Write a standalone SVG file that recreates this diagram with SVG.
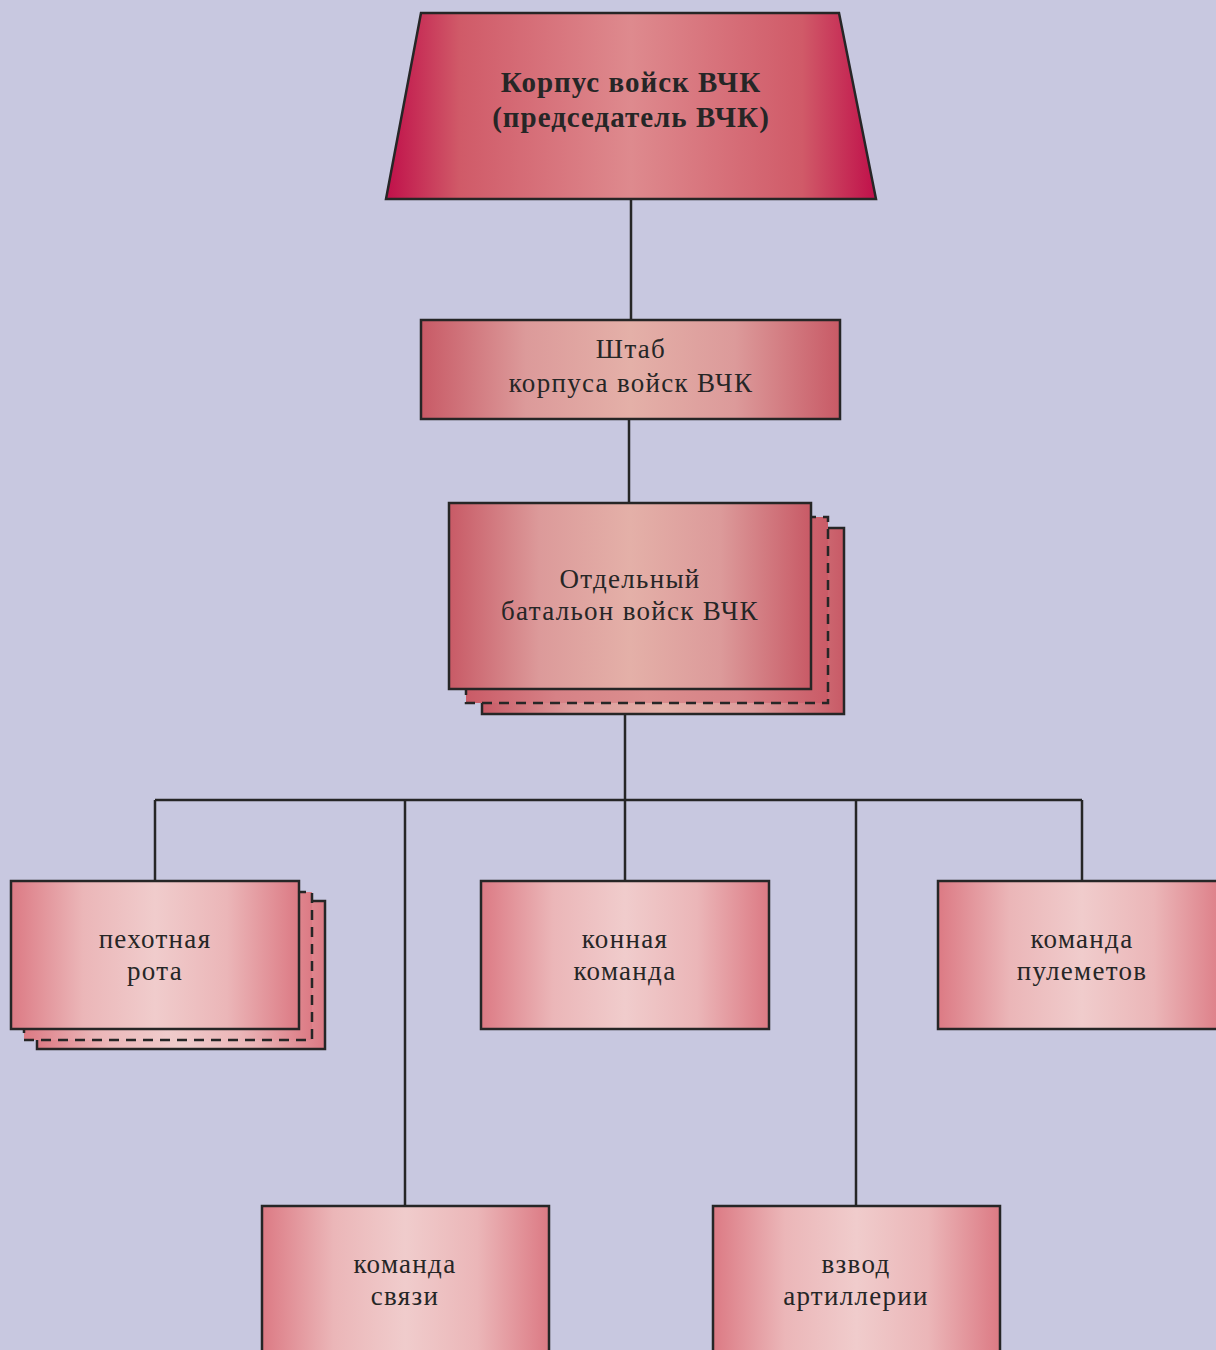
<svg xmlns="http://www.w3.org/2000/svg" width="1216" height="1350" viewBox="0 0 1216 1350">
<defs>
<linearGradient id="gTop" x1="0" y1="0" x2="1" y2="0">
<stop offset="0" stop-color="#c0104a"/>
<stop offset="0.15" stop-color="#d05a68"/>
<stop offset="0.5" stop-color="#de8a8e"/>
<stop offset="0.85" stop-color="#d05a68"/>
<stop offset="1" stop-color="#c0104a"/>
</linearGradient>
<linearGradient id="gMid" x1="0" y1="0" x2="1" y2="0">
<stop offset="0" stop-color="#c85a66"/>
<stop offset="0.25" stop-color="#dc9a9a"/>
<stop offset="0.5" stop-color="#e4b0a8"/>
<stop offset="0.75" stop-color="#dc9a9a"/>
<stop offset="1" stop-color="#c85a66"/>
</linearGradient>
<linearGradient id="gLow" x1="0" y1="0" x2="1" y2="0">
<stop offset="0" stop-color="#dc7a84"/>
<stop offset="0.25" stop-color="#ebb6b8"/>
<stop offset="0.5" stop-color="#f0cccc"/>
<stop offset="0.75" stop-color="#ebb6b8"/>
<stop offset="1" stop-color="#dc7a84"/>
</linearGradient>
<style>
.box{stroke:#262626;stroke-width:2.5}
.dash{stroke:#262626;stroke-width:2.5;stroke-dasharray:10 7}
.t{font-family:"Liberation Serif","DejaVu Serif",serif;font-size:27px;fill:#262626;text-anchor:middle;letter-spacing:1.3px}
.tb{font-family:"Liberation Serif","DejaVu Serif",serif;font-size:29px;font-weight:bold;fill:#262626;text-anchor:middle;letter-spacing:1px}
.c{stroke:#262626;stroke-width:2.5;fill:none}
</style>
</defs>
<rect x="0" y="0" width="1216" height="1350" fill="#c8c8e0"/>
<g id="connectors">
<line class="c" x1="631" y1="199" x2="631" y2="320"/>
<line class="c" x1="629" y1="419" x2="629" y2="503"/>
<line class="c" x1="625" y1="714" x2="625" y2="800"/>
<line class="c" x1="155" y1="800" x2="1082" y2="800"/>
<line class="c" x1="155" y1="800" x2="155" y2="881"/>
<line class="c" x1="405" y1="800" x2="405" y2="1206"/>
<line class="c" x1="625" y1="800" x2="625" y2="881"/>
<line class="c" x1="856" y1="800" x2="856" y2="1206"/>
<line class="c" x1="1082" y1="800" x2="1082" y2="881"/>
</g>
<g id="korpus">
<polygon class="box" points="421,13 839,13 876,199 386,199" fill="url(#gTop)"/>
<text class="tb" x="631" y="92">Корпус войск ВЧК</text>
<text class="tb" x="631" y="127">(председатель ВЧК)</text>
</g>
<g id="shtab">
<rect class="box" x="421" y="320" width="419" height="99" fill="url(#gMid)"/>
<text class="t" x="631" y="358">Штаб</text>
<text class="t" x="631" y="392">корпуса войск ВЧК</text>
</g>
<g id="batalion">
<rect class="box" x="482" y="528" width="362" height="186" fill="url(#gMid)"/>
<rect x="466" y="517" width="362" height="186" fill="#cd5c68"/>
<rect x="466" y="517" width="362" height="186" fill="url(#gMid)" opacity="0.6"/>
<rect class="dash" x="466" y="517" width="362" height="186" fill="none"/>
<rect class="box" x="449" y="503" width="362" height="186" fill="url(#gMid)"/>
<text class="t" x="630" y="588">Отдельный</text>
<text class="t" x="630" y="620">батальон войск ВЧК</text>
</g>
<g id="pekhotnaya">
<rect class="box" x="37" y="901" width="288" height="148" fill="url(#gLow)"/>
<rect x="24" y="892" width="288" height="148" fill="url(#gLow)"/>
<rect class="dash" x="24" y="892" width="288" height="148" fill="none"/>
<rect class="box" x="11" y="881" width="288" height="148" fill="url(#gLow)"/>
<text class="t" x="155" y="948">пехотная</text>
<text class="t" x="155" y="980">рота</text>
</g>
<g id="konnaya">
<rect class="box" x="481" y="881" width="288" height="148" fill="url(#gLow)"/>
<text class="t" x="625" y="948">конная</text>
<text class="t" x="625" y="980">команда</text>
</g>
<g id="pulemety">
<rect class="box" x="938" y="881" width="288" height="148" fill="url(#gLow)"/>
<text class="t" x="1082" y="948">команда</text>
<text class="t" x="1082" y="980">пулеметов</text>
</g>
<g id="svyaz">
<rect class="box" x="262" y="1206" width="287" height="160" fill="url(#gLow)"/>
<text class="t" x="405" y="1273">команда</text>
<text class="t" x="405" y="1305">связи</text>
</g>
<g id="artilleriya">
<rect class="box" x="713" y="1206" width="287" height="160" fill="url(#gLow)"/>
<text class="t" x="856" y="1273">взвод</text>
<text class="t" x="856" y="1305">артиллерии</text>
</g>
</svg>
